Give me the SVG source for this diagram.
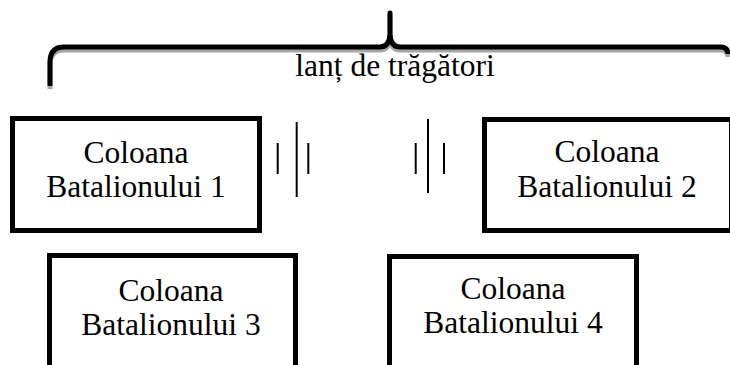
<svg xmlns="http://www.w3.org/2000/svg" width="730" height="365" viewBox="0 0 730 365">
<style>
.box{fill:#fff;stroke:#000;stroke-width:5}
.t{font-family:"Liberation Serif",serif;font-size:31.5px;fill:#000;text-anchor:middle}
.tick{stroke:#000;stroke-width:2}
.brace{fill:none;stroke-width:5;stroke-linejoin:round}
</style>
<rect width="730" height="365" fill="#fff"/>
<g id="brace">
<path class="brace" stroke="#a6a6a6" transform="translate(0,3)" d="M50,86 V62 Q50,47 64,47 H380 Q389,47 390,35 L390,13 L390,35 Q391,47 400,47 H720 Q728,47 728,54"/>
<path class="brace" stroke="#000" d="M50,86 V62 Q50,47 64,47 H380 Q389,47 390,35 L390,13 L390,35 Q391,47 400,47 H720 Q728,47 728,54"/>
<text class="t" x="395" y="76">lanț de trăgători</text>
</g>
<g id="node1">
<rect class="box" x="12.5" y="118.5" width="247" height="112"/>
<text class="t" x="136" y="163">Coloana</text>
<text class="t" x="136" y="197">Batalionului 1</text>
</g>
<g id="node2">
<rect class="box" x="484.5" y="119.5" width="247" height="111"/>
<text class="t" x="607" y="162">Coloana</text>
<text class="t" x="607" y="197">Batalionului 2</text>
</g>
<g id="node3">
<rect class="box" x="49.5" y="255.5" width="246" height="112"/>
<text class="t" x="171" y="301">Coloana</text>
<text class="t" x="171" y="335">Batalionului 3</text>
</g>
<g id="node4">
<rect class="box" x="389.5" y="256.5" width="247" height="112"/>
<text class="t" x="513" y="299">Coloana</text>
<text class="t" x="513" y="333">Batalionului 4</text>
</g>
<g id="connectors">
<line class="tick" x1="277.7" y1="143" x2="277.7" y2="174"/>
<line class="tick" x1="296.7" y1="122" x2="296.7" y2="197"/>
<line class="tick" x1="308.3" y1="143" x2="308.3" y2="174"/>
<line class="tick" x1="415.7" y1="143" x2="415.7" y2="174"/>
<line class="tick" x1="428" y1="119" x2="428" y2="193"/>
<line class="tick" x1="444" y1="143" x2="444" y2="174"/>
</g>
</svg>
